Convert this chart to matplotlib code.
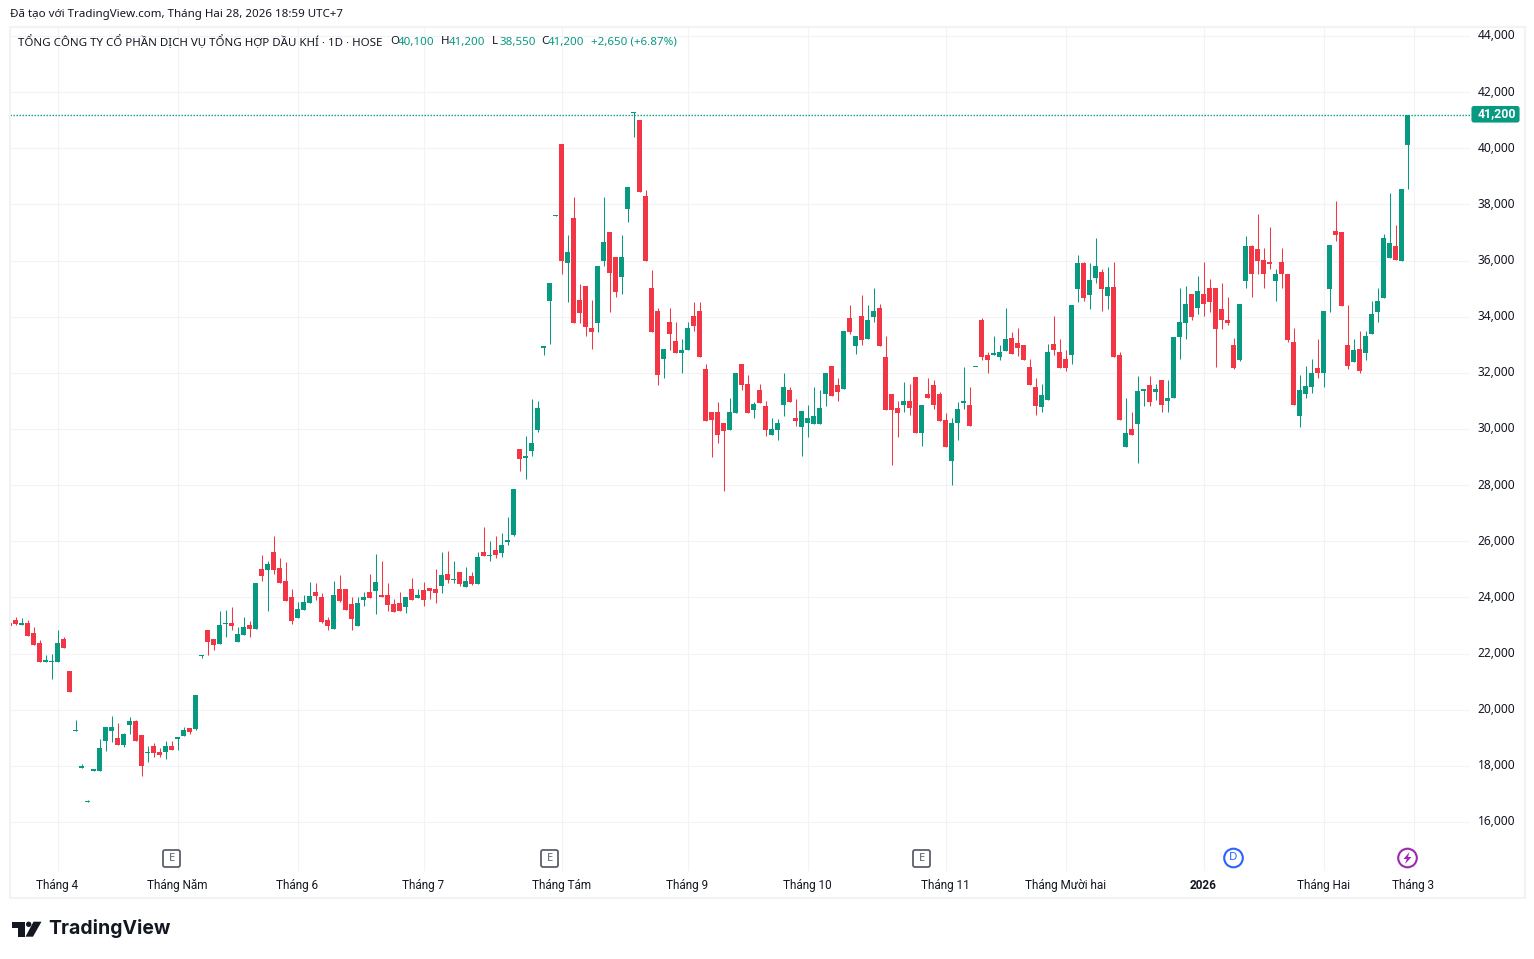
import numpy as np
import matplotlib
matplotlib.use("Agg")
import matplotlib.pyplot as plt
from matplotlib.patches import Rectangle, FancyBboxPatch, Circle, Polygon
from matplotlib.transforms import Affine2D, ScaledTranslation

W, H = 1534, 959
UP = "#089981"
DOWN = "#F23645"
GRID = "#F3F3F5"
INK = "#131722"

opens = [23090, 23200, 23000, 23100, 22730, 22370, 21690, 21700, 21700, 22510,
         21370, 19250, 17940, 16700, 17830, 17830, 18870, 19230, 18980, 18730,
         19440, 19580, 19090, 18470, 18720, 18510, 18510, 18720, 18940, 19080,
         19330, 19300, 21900, 22830, 22510, 22330, 23050, 23090, 22400, 22660,
         23010, 22870, 25010, 24970, 25610, 25040, 24580, 24010, 23260, 23550,
         23800, 24190, 24010, 23190, 22870, 24300, 24300, 23760, 22980, 23900,
         24190, 24230, 24080, 24080, 23760, 23800, 23660, 24300, 23980, 24260,
         24330, 24300, 24400, 24830, 24620, 24900, 24370, 24760, 24470, 25610,
         25470, 25690, 25580, 25970, 26220, 29300, 28980, 29220, 29980, 32900,
         34550, 37600, 40150, 35900, 37510, 34590, 35090, 33590, 33770, 35980,
         37010, 36120, 35410, 37830, 41270, 41010, 38290, 35010, 34190, 32480,
         33800, 33120, 32700, 32800, 34010, 34190, 32120, 30620, 30620, 30230,
         29980, 30580, 32330, 31620, 30690, 31400, 30830, 29800, 29980, 30870,
         31400, 30400, 30080, 30230, 30190, 30190, 31230, 32260, 31560, 31430,
         33940, 32940, 34010, 33190, 33980, 34300, 32580, 31230, 30730, 30870,
         31010, 31860, 29870, 31230, 31580, 31230, 30330, 28870, 30230, 30940,
         30870, 32200, 33900, 32620, 32650, 32570, 32790, 33230, 33050, 32990,
         32220, 31510, 30790, 31050, 33010, 32760, 32510, 32650, 34970, 35900,
         34770, 35370, 35580, 34730, 35050, 32620, 29370, 30010, 30190, 31340,
         31580, 31300, 31730, 30980, 31090, 33270, 33760, 34800, 34300, 34800,
         35010, 35010, 34260, 33900, 32980, 32470, 35260, 36510, 36400, 36010,
         35940, 35260, 35940, 35510, 33090, 30480, 31240, 31480, 32190, 31980,
         34970, 37040, 37010, 32980, 32400, 32840, 32690, 33370, 34150, 34650,
         36080, 36510, 35980, 40100]
highs = [23090, 23300, 23250, 23200, 22950, 22480, 21940, 22000, 22830, 22580,
         21370, 19650, 18050, 16800, 17870, 18970, 19400, 19760, 19510, 19160,
         19730, 19620, 19090, 18720, 18830, 18620, 18900, 18900, 19010, 19400,
         19330, 20510, 21940, 22830, 22510, 23510, 23550, 23660, 22940, 23300,
         23160, 24510, 25510, 25290, 26180, 25400, 25260, 24300, 23830, 24080,
         24550, 24510, 24150, 23300, 24580, 24800, 24300, 24010, 24010, 24190,
         24830, 25540, 25290, 24510, 23940, 24190, 24010, 24690, 24300, 24550,
         24330, 25010, 25610, 25650, 25290, 24900, 25080, 24900, 25610, 26500,
         26010, 26180, 26290, 26860, 27860, 29300, 29750, 31080, 31010, 32930,
         35190, 37640, 40150, 36900, 38260, 35160, 35090, 34590, 35800, 38260,
         37010, 36120, 36900, 38610, 41300, 41010, 38500, 35660, 34300, 32840,
         34300, 33800, 33190, 33800, 34510, 34510, 32330, 30620, 30970, 30230,
         31120, 32010, 32330, 31940, 30970, 31620, 31010, 30400, 30370, 32010,
         31500, 31080, 30650, 30870, 31500, 31400, 32010, 32260, 31810, 33480,
         34400, 33300, 34760, 34400, 35010, 34440, 33300, 31230, 31010, 31670,
         31590, 31860, 30870, 31830, 31730, 31330, 30580, 30400, 30970, 32220,
         31510, 32220, 33940, 32760, 33330, 32990, 34300, 33440, 33580, 32990,
         32510, 31830, 31600, 33010, 34010, 33220, 32830, 34400, 36190, 35940,
         35900, 36800, 35690, 35760, 35940, 32760, 31110, 30620, 31870, 31410,
         31870, 31620, 31760, 31730, 33260, 35010, 35080, 34800, 35440, 35940,
         35330, 35010, 35190, 34690, 33230, 34440, 36870, 36550, 37650, 36440,
         37190, 35690, 36440, 35510, 33590, 31940, 32260, 32510, 33190, 34190,
         36550, 38110, 37010, 34400, 33190, 33480, 33480, 34550, 35010, 36940,
         38400, 37260, 38550, 41200]
lows = [22980, 23000, 23000, 22620, 22300, 21690, 21690, 21100, 21700, 22190,
        20620, 19250, 17940, 16700, 17830, 17830, 18520, 18840, 18730, 18660,
        19120, 18870, 17620, 18120, 18300, 18300, 18230, 18550, 18550, 19080,
        19120, 19260, 21830, 21940, 22120, 22330, 22590, 22840, 22400, 22660,
        22590, 22870, 24580, 23510, 24830, 24510, 23870, 23050, 23260, 23550,
        23800, 23900, 23090, 22840, 22870, 23830, 23550, 22840, 22980, 23690,
        23980, 23410, 24010, 23510, 23480, 23510, 23440, 23900, 23980, 23690,
        23940, 23800, 24150, 24510, 24510, 24400, 24370, 24440, 24470, 25470,
        25290, 25400, 25440, 25860, 26180, 28510, 28220, 29050, 29900, 32620,
        33010, 37600, 35510, 34520, 33770, 33770, 33300, 32840, 33440, 35800,
        34150, 34690, 34800, 37370, 40400, 38430, 35980, 33440, 31580, 31830,
        32830, 32700, 32010, 32800, 33480, 32550, 30300, 29010, 29510, 27800,
        29980, 30580, 31400, 30580, 30400, 30940, 29760, 29800, 29620, 30470,
        30970, 30120, 29050, 29730, 30190, 30190, 30830, 31190, 30980, 31430,
        33400, 32660, 32980, 33190, 33800, 32940, 30690, 28730, 29730, 30620,
        30510, 29870, 29400, 31120, 30720, 30300, 29370, 28020, 29620, 30720,
        30090, 32200, 32470, 32010, 32650, 32440, 32790, 32660, 32600, 32470,
        31580, 30510, 30620, 31050, 32620, 32190, 32080, 32330, 34510, 34550,
        34260, 35190, 34200, 34260, 32550, 30330, 29370, 29800, 28800, 30830,
        30830, 31020, 30590, 30620, 31090, 32510, 33190, 33900, 34080, 34010,
        34150, 32220, 33550, 33690, 32120, 32430, 35010, 34690, 35510, 35010,
        35690, 34550, 35010, 33090, 30850, 30080, 31090, 31270, 31830, 31510,
        34150, 36690, 34370, 32120, 32400, 32010, 32470, 33370, 33800, 34650,
        36080, 36010, 35980, 38550]
closes = [22980, 23050, 23100, 22620, 22300, 21690, 21760, 21730, 22370, 22190,
          20620, 19270, 17980, 16730, 17870, 18620, 19370, 19370, 18730, 19120,
          19580, 18870, 17980, 18510, 18470, 18370, 18720, 18580, 19010, 19260,
          19190, 20510, 21940, 22400, 22300, 23010, 23090, 22980, 22690, 22940,
          22870, 24510, 24760, 25190, 24970, 24510, 23870, 23160, 23580, 23830,
          24050, 24050, 23120, 22980, 24080, 23870, 23550, 23230, 23800, 24010,
          23980, 24550, 24010, 23730, 23480, 23510, 24010, 23900, 24080, 23900,
          24230, 24150, 24800, 24620, 24650, 24470, 24580, 24470, 25440, 25470,
          25510, 25510, 25860, 26040, 27860, 28940, 29050, 29510, 30760, 32930,
          35190, 37640, 35980, 36300, 33770, 34120, 33620, 33440, 35800, 36650,
          35550, 34870, 36120, 38610, 41300, 38430, 35980, 33440, 31940, 32840,
          33370, 32700, 32830, 33590, 33660, 32550, 30300, 30330, 29800, 29940,
          30620, 31980, 31580, 30580, 30900, 30940, 29980, 30010, 30230, 31500,
          30970, 30300, 30650, 30400, 30470, 30760, 32010, 31190, 31310, 33480,
          33440, 33300, 33160, 33900, 34190, 32940, 30690, 30690, 30580, 31010,
          30730, 29870, 30870, 31120, 30870, 30300, 29370, 30230, 30720, 31010,
          30090, 32220, 32550, 32470, 32720, 32740, 33190, 32660, 32880, 32470,
          31580, 30830, 31200, 32760, 32830, 32190, 32190, 34400, 35900, 34660,
          35300, 35800, 34980, 35050, 32550, 30330, 29870, 29800, 31370, 31410,
          30970, 31410, 30840, 31120, 33260, 33800, 34440, 33980, 34900, 34470,
          34510, 33550, 33870, 33760, 32190, 34440, 36510, 35510, 35980, 35510,
          35870, 35510, 35510, 33160, 30850, 31380, 31520, 32010, 31980, 34190,
          36550, 36900, 34370, 32240, 32800, 32080, 33300, 34080, 34550, 36800,
          36620, 36010, 38550, 41200]

month_idx = [7, 27, 47, 68, 91, 112, 132, 155, 175, 198, 218, 233]
month_labels = ["Tháng 4", "Tháng Năm", "Tháng 6", "Tháng 7", "Tháng Tám", "Tháng 9",
                "Tháng 10", "Tháng 11", "Tháng Mười hai", "2026", "Tháng Hai", "Tháng 3"]
price_ticks = list(range(16000, 46000, 2000))
last_price = 41200

plt.rcParams["font.family"] = ["Noto Sans", "DejaVu Sans"]

fig = plt.figure(figsize=(W / 100, H / 100), dpi=100, facecolor="white")
px = Affine2D().scale(1 / W, -1 / H).translate(0, 1) + fig.transFigure

# panel frame, drawn in pixels of the screenshot
fig.add_artist(Rectangle((10, 27), 1515, 871, transform=px, fill=False, ec="#F2F3F5", lw=1.5))

ax = fig.add_axes([10 / W, 1 - 871 / H, 1460 / W, 844 / H])
for s in ax.spines.values():
    s.set_visible(False)

o = np.array(opens, dtype=float)
h = np.array(highs, dtype=float)
l = np.array(lows, dtype=float)
c = np.array(closes, dtype=float)
x = np.arange(len(o)) - 1
colors = np.where(c >= o, UP, DOWN)

wicks = ax.vlines(x, l, h, colors=colors, lw=0.75, zorder=3)
wicks.set_snap(True)
ax.bar(x, np.maximum(np.abs(c - o), 40), bottom=np.minimum(o, c), width=5 / 6,
       color=colors, linewidth=0, zorder=4)

dots = ax.axhline(last_price, color=UP, lw=1.0, ls=(0, (1, 1.16)), zorder=2)
dots.set_snap(True)

ax.set_xlim(-5.5 / 6, 1454.5 / 6)
ax.set_ylim(14253, 44321)
ax.set_xticks(month_idx)
ax.set_xticklabels(month_labels, fontsize=8.5, color=INK, family="Roboto")
ax.get_xticklabels()[9].set_fontweight("bold")
ax.yaxis.tick_right()
ax.set_yticks(price_ticks)
ax.set_yticklabels([f"{p:,}" for p in price_ticks], fontsize=8.6, color=INK)
ax.tick_params(axis="x", length=0, pad=5.7)
ax.tick_params(axis="y", length=0, pad=5.5)
ax.grid(True, color=GRID, lw=0.8, zorder=0)
ax.set_axisbelow(True)
# price labels sit a little above their gridlines
lift = ScaledTranslation(0, 1.1 / 72, fig.dpi_scale_trans)
for t in ax.get_yticklabels():
    t.set_transform(t.get_transform() + lift)


def label(xp, yp, s, **kw):
    kw.setdefault("fontsize", 8.6)
    kw.setdefault("color", INK)
    kw.setdefault("va", "center")
    fig.text(xp, yp, s, transform=px, **kw)


label(10, 14, "Đã tạo với TradingView.com, Tháng Hai 28, 2026 18:59 UTC+7", fontsize=8.3)
label(18, 42, "TỔNG CÔNG TY CỔ PHẦN DỊCH VỤ TỔNG HỢP DẦU KHÍ · 1D · HOSE", fontsize=8.3)
for xp, key, xv, val in [(390, "O", 398, "40,100"), (441, "H", 449, "41,200"),
                         (492, "L", 499, "38,550"), (541, "C", 548, "41,200")]:
    label(xp, 42, key, fontsize=8.3)
    label(xv, 42, val, fontsize=8.3, color=UP)
label(591, 42, "+2,650 (+6.87%)", fontsize=8.3, color=UP)

# last price tag
fig.add_artist(FancyBboxPatch((1472, 106.5), 47, 15.5, boxstyle="round,pad=0,rounding_size=2",
                              transform=px, fc=UP, ec=UP, lw=0.8))
label(1497, 114, f"{last_price:,}", color="white", ha="center", fontweight="bold", family="Roboto", fontsize=8.8)

# event markers on the time axis
for xp in [171.5, 549.5, 921.5]:
    fig.add_artist(FancyBboxPatch((xp - 8.5, 850), 17, 17, boxstyle="round,pad=0,rounding_size=2",
                                  transform=px, fc="white", ec="#5D606B", lw=1.3))
    label(xp, 858.5, "E", ha="center", fontsize=8, color="#5D606B")
fig.add_artist(Circle((1233.5, 858), 9.3, transform=px, fc="white", ec="#2962FF", lw=1.5))
label(1233.5, 858, "D", ha="center", fontsize=8.3, color="#2962FF")
fig.add_artist(Circle((1407.5, 858), 9.3, transform=px, fc="white", ec="#9C27B0", lw=1.5))
fig.add_artist(Polygon([(1409.5, 852), (1403.5, 859), (1406.8, 859), (1405, 864),
                        (1411.5, 857), (1408, 857)], transform=px, fc="#9C27B0", ec="none"))

# TradingView logo
fig.add_artist(Polygon([(12, 921.7), (24.5, 921.7), (24.5, 936.7), (17.5, 936.7),
                        (17.5, 927.5), (12, 927.5)], transform=px, fc=INK, ec="none"))
fig.add_artist(Circle((28.7, 924.3), 2.7, transform=px, fc=INK, ec="none"))
fig.add_artist(Polygon([(33.5, 921.7), (41.5, 921.7), (33, 936.7), (25.5, 936.7)],
                       transform=px, fc=INK, ec="none"))
label(48.5, 929, "TradingView", family="Inter", fontweight="bold", fontsize=14)

fig.savefig("out.png", dpi=100)
